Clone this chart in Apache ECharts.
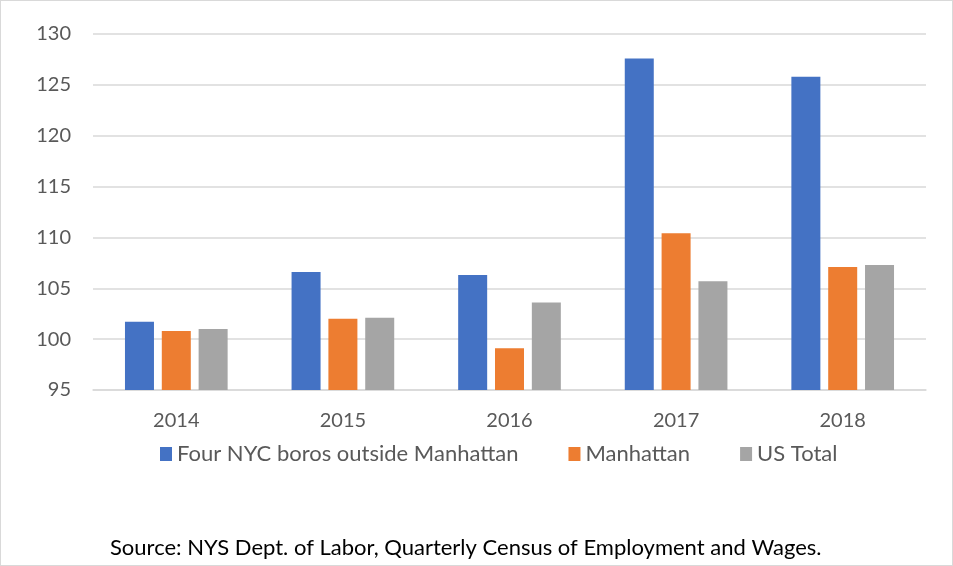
<!DOCTYPE html>
<html>
<head>
<meta charset="utf-8">
<script src="https://cdn.jsdelivr.net/npm/echarts@6/dist/echarts.min.js"></script>
<style>
  html, body { margin: 0; padding: 0; background: #fff; }
  #chart { width: 951px; height: 564px; border: 1px solid #d9d9d9; }
</style>
</head>
<body>
<div id="chart"></div>
<script>
// values
var years = ['2014', '2015', '2016', '2017', '2018'];
var fourBoros = [101.7, 106.6, 106.3, 127.6, 125.8];
var manhattan = [100.8, 102.0, 99.1, 110.4, 107.1];
var usTotal = [101.0, 102.1, 103.6, 105.7, 107.3];
var seriesNames = ['Four NYC boros outside Manhattan', 'Manhattan', 'US Total'];
var colors = ['#4472c4', '#ed7d31', '#a5a5a5'];

var font = 'Lato, "Open Sans", sans-serif';
var textColor = '#595959';

var chart = echarts.init(document.getElementById('chart'));

function bar(name, data, color) {
    return {
        name: name,
        type: 'bar',
        data: data,
        barWidth: 29,
        barGap: '27%',
        itemStyle: { color: color },
        emphasis: { disabled: true }
    };
}

chart.setOption({
    animation: false,
    color: colors,
    grid: { left: 92, right: 26, top: 33, bottom: 175 },
    legend: {
        top: 437,
        left: 154,
        itemWidth: 12,
        itemHeight: 14,
        itemGap: 50,
        icon: 'rect',
        textStyle: { fontFamily: font, fontSize: 22, color: textColor },
        data: seriesNames
    },
    xAxis: {
        type: 'category',
        data: years,
        axisLine: { lineStyle: { color: '#d9d9d9', width: 1.5 } },
        axisTick: { show: false },
        axisLabel: { fontFamily: font, fontSize: 20, color: textColor, margin: 21 }
    },
    yAxis: {
        type: 'value',
        min: 95,
        max: 130,
        interval: 5,
        axisLine: { show: false },
        axisTick: { show: false },
        splitLine: { lineStyle: { color: '#d9d9d9', width: 1.5 } },
        axisLabel: { fontFamily: font, fontSize: 20, color: textColor, margin: 22 }
    },
    graphic: [{
        type: 'text',
        left: 109,
        top: 536,
        style: {
            text: 'Source: NYS Dept. of Labor, Quarterly Census of Employment and Wages.',
            font: '22px ' + font,
            fill: '#000'
        }
    }],
    series: [
        bar(seriesNames[0], fourBoros, colors[0]),
        bar(seriesNames[1], manhattan, colors[1]),
        bar(seriesNames[2], usTotal, colors[2])
    ]
});
</script>
</body>
</html>
